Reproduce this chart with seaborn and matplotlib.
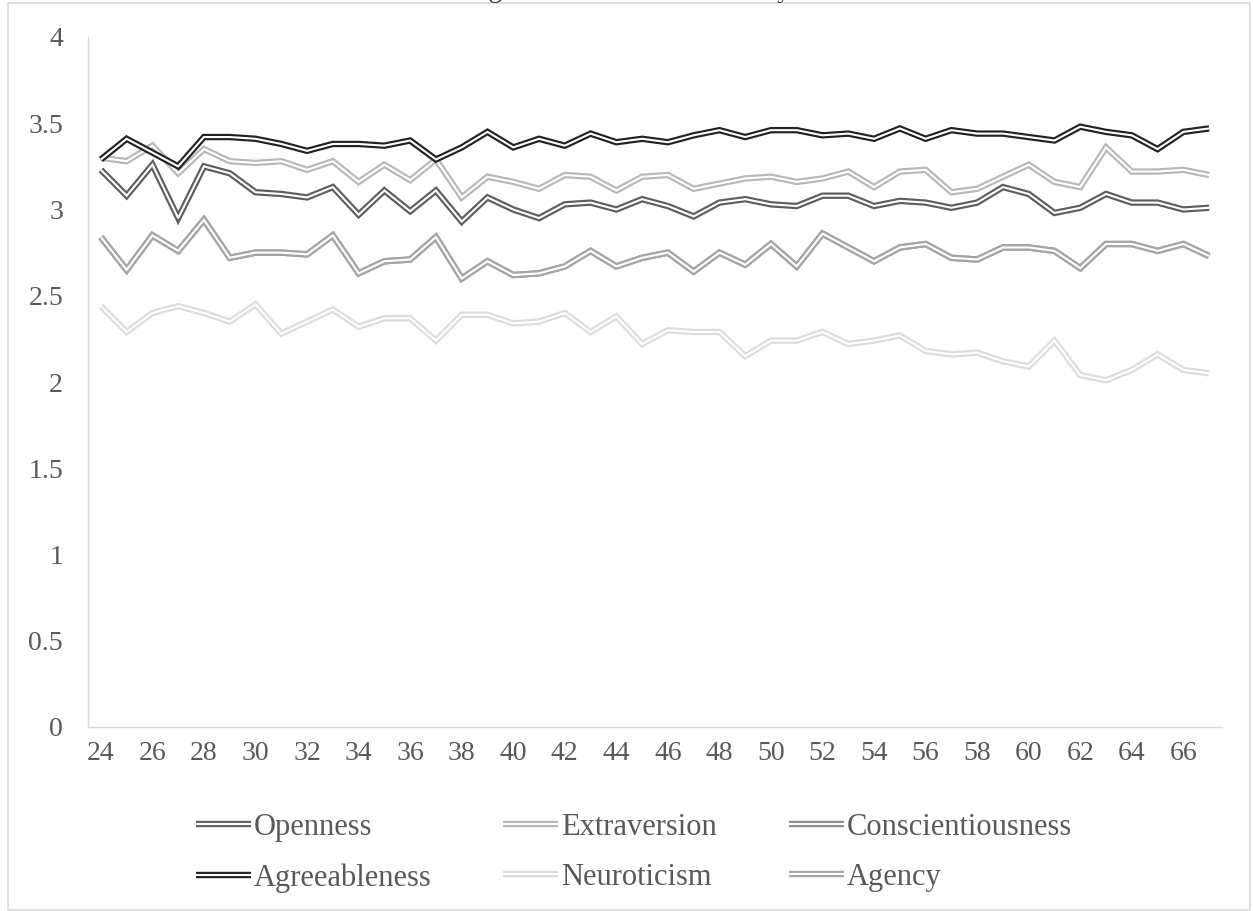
import numpy as np
import pandas as pd
import matplotlib
matplotlib.use("Agg")
import matplotlib.pyplot as plt
import seaborn as sns
from matplotlib.lines import Line2D
from matplotlib.patches import Rectangle

# ---- data -------------------------------------------------------------
ages = list(range(24, 68))

openness = [3.23, 3.08, 3.26, 2.95, 3.25, 3.21, 3.10, 3.09, 3.07, 3.13,
            2.97, 3.11, 2.99, 3.11, 2.93, 3.07, 3.00, 2.95, 3.03, 3.04,
            3.00, 3.06, 3.02, 2.96, 3.04, 3.06, 3.03, 3.02, 3.08, 3.08,
            3.02, 3.05, 3.04, 3.01, 3.04, 3.13, 3.09, 2.98, 3.01, 3.09,
            3.04, 3.04, 3.00, 3.01]

extraversion = [3.30, 3.28, 3.37, 3.21, 3.35, 3.28, 3.27, 3.28, 3.23, 3.28,
                3.16, 3.26, 3.17, 3.29, 3.07, 3.19, 3.16, 3.12, 3.20, 3.19,
                3.11, 3.19, 3.20, 3.12, 3.15, 3.18, 3.19, 3.16, 3.18, 3.22,
                3.13, 3.22, 3.23, 3.10, 3.12, 3.19, 3.26, 3.16, 3.13, 3.36,
                3.22, 3.22, 3.23, 3.20]

conscientiousness = [2.84, 2.65, 2.85, 2.76, 2.94, 2.72, 2.75, 2.75, 2.74, 2.85,
                     2.63, 2.70, 2.71, 2.84, 2.60, 2.70, 2.62, 2.63, 2.67, 2.76,
                     2.67, 2.72, 2.75, 2.64, 2.75, 2.68, 2.80, 2.67, 2.86, 2.78,
                     2.70, 2.78, 2.80, 2.72, 2.71, 2.78, 2.78, 2.76, 2.66, 2.80,
                     2.80, 2.76, 2.80, 2.73]

agreeableness = [3.29, 3.41, 3.33, 3.25, 3.42, 3.42, 3.41, 3.38, 3.34, 3.38,
                 3.38, 3.37, 3.40, 3.29, 3.36, 3.45, 3.36, 3.41, 3.37, 3.44,
                 3.39, 3.41, 3.39, 3.43, 3.46, 3.42, 3.46, 3.46, 3.43, 3.44,
                 3.41, 3.47, 3.41, 3.46, 3.44, 3.44, 3.42, 3.40, 3.48, 3.45,
                 3.43, 3.35, 3.45, 3.47]

neuroticism = [2.44, 2.29, 2.40, 2.44, 2.40, 2.35, 2.45, 2.28, 2.35, 2.42,
               2.32, 2.37, 2.37, 2.24, 2.39, 2.39, 2.34, 2.35, 2.40, 2.29,
               2.38, 2.22, 2.30, 2.29, 2.29, 2.15, 2.24, 2.24, 2.29, 2.22,
               2.24, 2.27, 2.18, 2.16, 2.17, 2.12, 2.09, 2.24, 2.04, 2.01,
               2.07, 2.16, 2.07, 2.05]

agency = [2.84, 2.65, 2.85, 2.76, 2.94, 2.72, 2.75, 2.75, 2.74, 2.85,
          2.63, 2.70, 2.71, 2.84, 2.60, 2.70, 2.62, 2.63, 2.67, 2.76,
          2.67, 2.72, 2.75, 2.64, 2.75, 2.68, 2.80, 2.67, 2.86, 2.78,
          2.70, 2.78, 2.80, 2.72, 2.71, 2.78, 2.78, 2.76, 2.66, 2.80,
          2.80, 2.76, 2.80, 2.73]

traits = ["Openness", "Extraversion", "Conscientiousness",
          "Agreeableness", "Neuroticism", "Agency"]
y_ticks = [0, 0.5, 1, 1.5, 2, 2.5, 3, 3.5, 4]
y_tick_labels = ["0", "0.5", "1", "1.5", "2", "2.5", "3", "3.5", "4"]
x_ticks = ages[::2]
title = "Big Five Scores and Maturity"

# ---- styling ----------------------------------------------------------
colors = {
    "Openness": "#5e5e5e",
    "Extraversion": "#b8b8b8",
    "Conscientiousness": "#8c8c8c",
    "Agreeableness": "#222222",
    "Neuroticism": "#dcdcdc",
    "Agency": "#a6a6a6",
}
text_color = "#595959"
outer_lw = 4.6
inner_lw = 1.5

df = pd.DataFrame({
    "Age": ages,
    "Openness": openness,
    "Extraversion": extraversion,
    "Conscientiousness": conscientiousness,
    "Agreeableness": agreeableness,
    "Neuroticism": neuroticism,
    "Agency": agency,
}).melt(id_vars="Age", var_name="Trait", value_name="Score")

sns.set_theme(style="white")
plt.rcParams["font.family"] = ["Liberation Serif", "DejaVu Serif"]

W, H = 1253, 911
fig = plt.figure(figsize=(W / 100, H / 100), dpi=100)
ax = fig.add_axes([88 / W, 1 - 727 / H, (1222 - 88) / W, (727 - 37) / H])

# compound "double" lines: a thick coloured stroke with a thin white core
for trait in traits:
    sub = df[df["Trait"] == trait]
    sns.lineplot(data=sub, x="Age", y="Score", ax=ax, color=colors[trait],
                 lw=outer_lw, legend=False, solid_joinstyle="miter",
                 solid_capstyle="butt")
    sns.lineplot(data=sub, x="Age", y="Score", ax=ax, color="white",
                 lw=inner_lw, legend=False, solid_joinstyle="miter",
                 solid_capstyle="butt")

ax.set_xlim(ages[0] - 0.5, ages[-1] + 0.5)
ax.set_ylim(0, 4)
ax.set_xticks(x_ticks)
ax.set_xticklabels([str(a) for a in x_ticks])
ax.set_yticks(y_ticks)
ax.set_yticklabels(y_tick_labels)
ax.set_xlabel("")
ax.set_ylabel("")
ax.tick_params(axis="both", length=0, labelsize=20, colors=text_color)
ax.tick_params(axis="x", pad=10)
ax.tick_params(axis="y", pad=18)
for side in ("top", "right"):
    ax.spines[side].set_visible(False)
for side in ("left", "bottom"):
    ax.spines[side].set_color("#d9d9d9")
    ax.spines[side].set_linewidth(1.0)

# legend, filled row by row in three columns
legend_order = ["Openness", "Agreeableness", "Extraversion",
                "Neuroticism", "Conscientiousness", "Agency"]
handles = [(Line2D([], [], color=colors[t], lw=outer_lw, solid_capstyle="butt"),
            Line2D([], [], color="white", lw=inner_lw, solid_capstyle="butt"))
           for t in legend_order]
fig.legend(handles, legend_order, loc="center", bbox_to_anchor=(0.506, 0.064),
           ncol=3, frameon=False, fontsize=22, labelcolor=text_color,
           handlelength=1.8, handletextpad=0.1, columnspacing=2.35,
           labelspacing=0.7)

# chart border and title
fig.patches.append(Rectangle((7.5 / W, 1.5 / H), (1250 - 7.5) / W, (908 - 1.5) / H,
                             transform=fig.transFigure, fill=False,
                             edgecolor="#d9d9d9", lw=1.2))
fig.text(0.5, 1 + 3 / H, title, ha="center", va="baseline",
         fontsize=20, color="#404040")

fig.savefig("out.png", dpi=100)
